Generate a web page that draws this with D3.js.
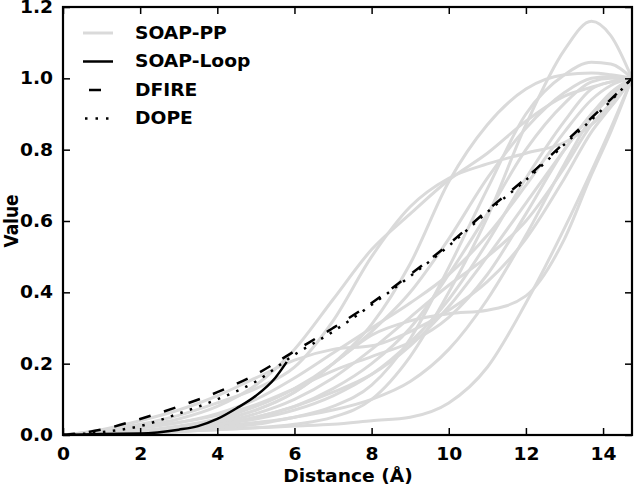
<!DOCTYPE html>
<html><head><meta charset="utf-8">
<script src="https://cdn.jsdelivr.net/npm/d3@7/dist/d3.min.js"></script>
<style>
body{margin:0;background:#fff;}
text{font-family:"DejaVu Sans",sans-serif;font-weight:bold;}
</style></head>
<body><svg id="c" width="642" height="485"></svg>
<script>
// ---- data ----
const xGrid = [0,1,2,3,4,5,6,7,8,9,10,11,12,13,13.7,14.2,14.75];
const soapPP = [
 [0,.002,.005,.01,.015,.02,.03,.05,.10,.22,.40,.61,.87,1.08,1.16,1.12,1.0],
 [0,.003,.008,.015,.025,.035,.05,.08,.14,.27,.47,.69,.90,1.01,1.045,1.04,1.0],
 [0,.01,.025,.045,.08,.14,.24,.38,.52,.62,.715,.79,.88,.95,.975,.99,1.0],
 [0,.012,.03,.055,.09,.13,.19,.32,.50,.64,.72,.76,.79,.82,.87,.92,1.0],
 [0,.005,.01,.02,.04,.07,.12,.2,.31,.48,.71,.87,.97,1.01,1.015,1.01,1.0],
 [0,.005,.012,.025,.045,.08,.13,.2,.29,.4,.55,.72,.86,.96,1.0,1.005,1.0],
 [0,.005,.01,.02,.04,.07,.12,.2,.28,.32,.34,.35,.39,.55,.73,.85,1.0],
 [0,.002,.005,.01,.015,.02,.025,.03,.04,.05,.09,.19,.37,.58,.74,.86,1.0],
 [0,.003,.008,.015,.03,.05,.08,.12,.17,.25,.36,.5,.65,.8,.9,.95,1.0],
 [0,.004,.01,.02,.035,.06,.1,.16,.24,.33,.42,.5,.6,.75,.87,.93,1.0],
 [0,.01,.02,.035,.06,.1,.16,.23,.3,.37,.45,.56,.7,.85,.94,.98,1.0],
 [0,.005,.01,.02,.03,.05,.08,.13,.2,.3,.45,.62,.8,.93,.99,1.0,1.0],
 [0,.015,.04,.07,.11,.16,.21,.24,.25,.29,.35,.43,.55,.72,.85,.92,1.0],
 [0,.003,.006,.01,.02,.03,.05,.07,.1,.15,.24,.38,.56,.76,.89,.95,1.0],
 [0,.008,.02,.035,.055,.085,.13,.18,.22,.26,.33,.45,.62,.8,.9,.96,1.0],
 [0,.004,.01,.02,.03,.045,.07,.11,.17,.26,.38,.54,.72,.88,.97,.99,1.0]
];
const loopX = [0,1,2,3,3.5,4,4.5,5,5.5,5.8];
const soapLoop = [0,.003,.004,.015,.025,.045,.075,.11,.16,.205];
const refX = [0,1,2,3,4,5,6,7,8,9,10,11,12,13,14,14.75];
const dfire = [0,.015,.045,.08,.12,.17,.235,.30,.37,.45,.535,.63,.72,.82,.92,1.0];
const dope  = [0,.008,.025,.06,.10,.15,.225,.29,.365,.445,.53,.625,.715,.815,.915,1.0];
const xTicks = [0,2,4,6,8,10,12,14];
const yTicks = [0,0.2,0.4,0.6,0.8,1.0,1.2];
const legendItems = ["SOAP-PP","SOAP-Loop","DFIRE","DOPE"];

// ---- layout ----
const L=63,T=7,R=632,B=435, SX=1.1, FS=17;
const svg=d3.select("#c");
const x=d3.scaleLinear().domain([0,14.75]).range([L,R]);
const y=d3.scaleLinear().domain([0,1.2]).range([B,T]);
const line=(xs)=>d3.line().x((d,i)=>x(xs[i])).y(d=>y(d)).curve(d3.curveMonotoneX);
function stretch(sel){
  sel.each(function(){
    const t=d3.select(this);
    const xv=+(t.attr("x")||0);
    t.attr("x",xv/SX).attr("transform",`scale(${SX},1)`);
  });
}

svg.append("clipPath").attr("id","clip").append("rect").attr("x",L).attr("y",T).attr("width",R-L).attr("height",B-T);
const g=svg.append("g").attr("clip-path","url(#clip)");
soapPP.forEach(s=>g.append("path").attr("d",line(xGrid)(s)).attr("fill","none").attr("stroke","#dadada").attr("stroke-width",3));
g.append("path").attr("d",line(loopX)(soapLoop)).attr("fill","none").attr("stroke","#000").attr("stroke-width",2.5);
g.append("path").attr("d",line(refX)(dfire)).attr("fill","none").attr("stroke","#000").attr("stroke-width",2.5).attr("stroke-dasharray","12,14");
g.append("path").attr("d",line(refX)(dope)).attr("fill","none").attr("stroke","#000").attr("stroke-width",2.5).attr("stroke-dasharray","2.5,7.5");

// axes (ticks inward on all sides)
const tl=7;
const ax=svg.append("g").attr("transform",`translate(0,${B})`).call(d3.axisBottom(x).tickValues(xTicks).tickSize(-tl).tickPadding(13).tickFormat(d3.format("d")));
const axT=svg.append("g").attr("transform",`translate(0,${T})`).call(d3.axisTop(x).tickValues(xTicks).tickSize(-tl).tickFormat(""));
const ay=svg.append("g").attr("transform",`translate(${L},0)`).call(d3.axisLeft(y).tickValues(yTicks).tickSize(-tl).tickPadding(10).tickFormat(d3.format(".1f")));
const ayR=svg.append("g").attr("transform",`translate(${R},0)`).call(d3.axisRight(y).tickValues(yTicks).tickSize(-tl).tickFormat(""));
[ax,axT,ay,ayR].forEach(a=>{a.select(".domain").remove();a.selectAll("line").attr("stroke","#000").attr("stroke-width",1.5);a.selectAll("text").attr("font-size",FS).attr("fill","#000").style("font-family","DejaVu Sans").style("font-weight","bold");});
stretch(ax.selectAll("text")); stretch(ay.selectAll("text"));
svg.append("rect").attr("x",L).attr("y",T).attr("width",R-L).attr("height",B-T).attr("fill","none").attr("stroke","#000").attr("stroke-width",2.2);

stretch(svg.append("text").attr("x",348).attr("y",482).attr("text-anchor","middle").attr("font-size",FS).text("Distance (Å)"));
svg.append("text").attr("transform",`translate(18,221) scale(${SX},1) rotate(-90)`).attr("text-anchor","middle").attr("font-size",FS).text("Value");

// legend
const lg=svg.append("g");
legendItems.forEach((name,i)=>{
  const yy=33+i*28.5;
  stretch(lg.append("text").attr("x",135).attr("y",yy+6).attr("font-size",FS).text(name));
});
lg.append("line").attr("x1",83).attr("x2",113).attr("y1",33).attr("y2",33).attr("stroke","#dadada").attr("stroke-width",3);
lg.append("line").attr("x1",83).attr("x2",113).attr("y1",61.5).attr("y2",61.5).attr("stroke","#000").attr("stroke-width",2.5);
lg.append("line").attr("x1",89).attr("x2",101).attr("y1",90).attr("y2",90).attr("stroke","#000").attr("stroke-width",2.5);
lg.append("line").attr("x1",85).attr("x2",113).attr("y1",118.5).attr("y2",118.5).attr("stroke","#000").attr("stroke-width",2.5).attr("stroke-dasharray","2.5,8");
</script></body></html>
